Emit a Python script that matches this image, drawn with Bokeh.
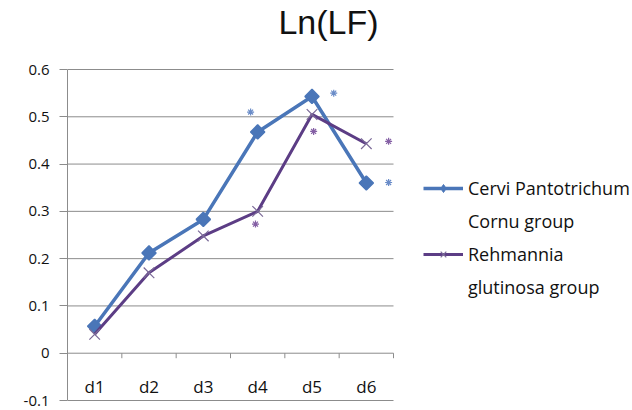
import math
from bokeh.plotting import figure
from bokeh.models import FixedTicker, Legend, LegendItem, Range1d, Label
from bokeh.core.properties import value
from bokeh.embed import file_html
from bokeh.resources import INLINE

# ---- data ----
days = ["d1", "d2", "d3", "d4", "d5", "d6"]
cervi = [0.057, 0.212, 0.283, 0.468, 0.543, 0.360]
rehm = [0.040, 0.170, 0.248, 0.300, 0.505, 0.443]
y_ticks = [-0.1, 0.0, 0.1, 0.2, 0.3, 0.4, 0.5, 0.6]
y_tick_labels = ["-0.1", "0", "0.1", "0.2", "0.3", "0.4", "0.5", "0.6"]

# significance asterisks: day index, x-shift within category, height
cervi_sig_idx = [3, 4, 5]
cervi_sig_dx = [-0.13, 0.40, 0.41]
cervi_sig_y = [0.510, 0.550, 0.361]
rehm_sig_idx = [3, 4, 5]
rehm_sig_dx = [-0.04, 0.03, 0.41]
rehm_sig_y = [0.273, 0.469, 0.448]

BLUE = "#4a76b8"
PURPLE = "#5c3d85"
XMARK = "#7b6a98"
GRID = "#8c8c8c"
TXT = "#111111"

# ---- layout (pixels) ----
W, H = 632, 410
LEFT, PLOT_RIGHT = 67, 393      # plot area horizontally
TOP_Y, BOTTOM_Y = 69, 400       # pixel rows of 0.6 and -0.1
y_lo, y_hi = y_ticks[0], y_ticks[-1]
ppu = (BOTTOM_Y - TOP_Y) / (y_hi - y_lo)
ppx = (PLOT_RIGHT - LEFT) / len(days)
frame_bottom = BOTTOM_Y + 1

x_pos = [i + 0.5 for i in range(len(days))]
bounds = [i + 1 for i in range(len(days))]

p = figure(width=W, height=H,
           x_range=Range1d(0, (W - LEFT) / ppx),
           y_range=Range1d(y_lo - (frame_bottom - BOTTOM_Y) / ppu, y_hi + TOP_Y / ppu),
           output_backend="svg", toolbar_location=None, tools="",
           x_axis_location=None,
           min_border_left=LEFT, min_border_right=0, min_border_top=0,
           min_border_bottom=H - frame_bottom)
p.outline_line_color = None
p.background_fill_color = "white"
p.xgrid.visible = False
p.ygrid.visible = False

# y axis
yax = p.yaxis[0]
yax.bounds = (y_lo, y_hi)
yax.ticker = FixedTicker(ticks=y_ticks, minor_ticks=[])
yax.major_label_overrides = {t: s for t, s in zip(y_ticks, y_tick_labels)}
yax.axis_line_color = GRID
yax.major_tick_line_color = GRID
yax.major_tick_out = 8
yax.major_tick_in = 0
yax.minor_tick_line_color = None
yax.major_label_text_font = "Open Sans"
yax.major_label_text_font_size = "15px"
yax.major_label_text_color = TXT
yax.major_label_standoff = 10

# horizontal gridlines across the category area
p.segment(x0=[0] * len(y_ticks), x1=[len(days)] * len(y_ticks), y0=y_ticks, y1=y_ticks,
          line_color=GRID, line_width=1)

# category boundary ticks on the zero line
p.ray(x=bounds, y=[0] * len(bounds), length=5, length_units="screen",
      angle=-math.pi / 2, line_color=GRID, line_width=1)

# category labels
p.text(x=x_pos, y=[0] * len(days), text=days, y_offset=33,
       text_align="center", text_baseline="middle",
       text_font=value("Open Sans"), text_font_size="17px", text_color=TXT)

# series
l1 = p.line(x_pos, cervi, line_color=BLUE, line_width=3.5)
d1 = p.scatter(x_pos, cervi, marker="diamond", size=12,
               fill_color=BLUE, line_color=BLUE)
m1 = p.scatter(x_pos, cervi, marker="square", angle=math.pi / 4, size=10,
               fill_color=BLUE, line_color=BLUE, line_width=1.5)
l2 = p.line(x_pos, rehm, line_color=PURPLE, line_width=3)
m2 = p.scatter(x_pos, rehm, marker="x", size=15, line_color=XMARK, line_width=1.2)

# asterisks
p.scatter([x_pos[i] + dx for i, dx in zip(cervi_sig_idx, cervi_sig_dx)], cervi_sig_y,
          marker="asterisk", size=7, line_color="#6a8cc8", line_width=1.2)
p.scatter([x_pos[i] + dx for i, dx in zip(rehm_sig_idx, rehm_sig_dx)], rehm_sig_y,
          marker="asterisk", size=7, line_color="#8560a5", line_width=1.2)

# title
p.add_layout(Label(x=328 - LEFT, y=frame_bottom - 21, x_units="screen", y_units="screen",
                   text="Ln(LF)", text_align="center", text_baseline="alphabetic",
                   text_font="Liberation Sans", text_font_size="34px",
                   text_color="#111111"))

dummy = p.scatter(x=[], y=[], alpha=0)

legend = Legend(items=[
    LegendItem(label="Cervi Pantotrichum", renderers=[l1, d1]),
    LegendItem(label="Cornu group", renderers=[dummy]),
    LegendItem(label="Rehmannia", renderers=[l2, m2]),
    LegendItem(label="glutinosa group", renderers=[dummy]),
], location=(423 - LEFT, frame_bottom - 302))
legend.glyph_width = 40
legend.glyph_height = 20
legend.label_height = 31
legend.spacing = 2
legend.padding = 0
legend.margin = 0
legend.label_standoff = 5
legend.border_line_color = None
legend.background_fill_alpha = 0
legend.label_text_font = "Open Sans"
legend.label_text_font_size = "18px"
legend.label_text_color = TXT
p.add_layout(legend)

open("out.html", "w").write(file_html(p, INLINE))
